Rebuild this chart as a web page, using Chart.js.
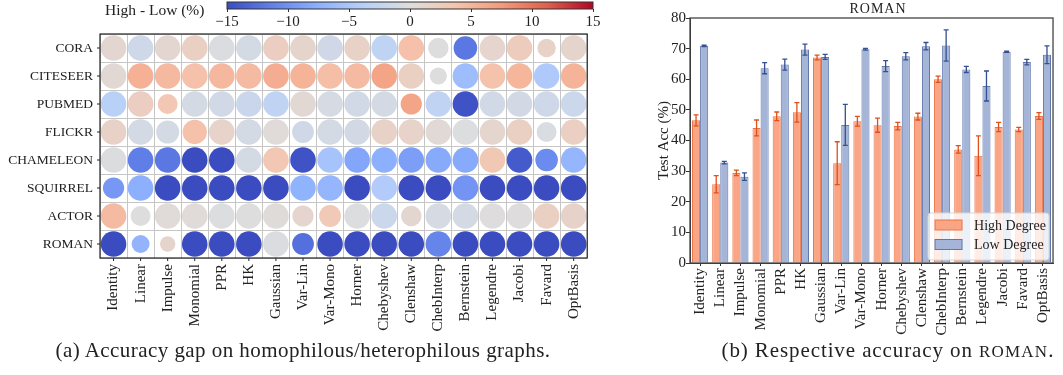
<!DOCTYPE html>
<html>
<head>
<meta charset="utf-8">
<script src="https://cdn.jsdelivr.net/npm/chart.js@4.4.0/dist/chart.umd.min.js"></script>
<style>
  body { margin: 0; background: #fff; width: 1063px; height: 375px; position: relative; overflow: hidden; font-family: "Liberation Serif", serif; color: #222; }
  canvas { position: absolute; }
  .txt { position: absolute; white-space: nowrap; color: #222; }
</style>
</head>
<body>
<canvas id="heat" style="left:0px;top:0px" width="600" height="340"></canvas>
<canvas id="cbar" style="left:200px;top:0px" width="420" height="30"></canvas>
<canvas id="bars" style="left:600px;top:0px" width="463" height="345"></canvas>
<div class="txt" style="left:105px;top:1px;font-size:15.5px">High - Low (%)</div>
<div class="txt" style="left:878px;top:1px;font-size:14px;letter-spacing:1px;transform:translateX(-50%)">ROMAN</div>
<div class="txt" style="left:303px;top:338px;font-size:21px;letter-spacing:0.45px;transform:translateX(-50%)">(a) Accuracy gap on homophilous/heterophilous graphs.</div>
<div class="txt" style="left:888px;top:338px;font-size:21px;letter-spacing:0.9px;transform:translateX(-50%)">(b) Respective accuracy on <span style="font-size:17px;letter-spacing:1.2px">ROMAN</span>.</div>
<script>
const methods = ['Identity', 'Linear', 'Impulse', 'Monomial', 'PPR', 'HK', 'Gaussian', 'Var-Lin', 'Var-Mono',
  'Horner', 'Chebyshev', 'Clenshaw', 'ChebInterp', 'Bernstein', 'Legendre', 'Jacobi', 'Favard', 'OptBasis'];
const graphs = ['CORA', 'CITESEER', 'PUBMED', 'FLICKR', 'CHAMELEON', 'SQUIRREL', 'ACTOR', 'ROMAN'];

// accuracy gap, high - low degree (%)
const gapCora      = [1.0, -1.5, 1.0, 2.0, -0.3, -1.0, 2.2, 1.3, -1.3, 1.7, -3.0, 4.0, 0.0, -12.0, 1.2, 2.5, 1.7, 1.3];
const gapCiteseer  = [0.8, 5.5, 4.7, 4.0, 4.8, 4.6, 5.8, 5.3, 4.2, 4.6, 6.5, 2.0, 0.0, -6.0, 3.8, 5.0, -4.5, 5.2];
const gapPubmed    = [-3.5, 2.2, 3.3, -1.0, -1.2, -2.0, -2.8, 0.7, -0.8, -1.2, -1.0, 6.5, -2.8, -14.5, -1.2, -1.1, -1.5, -1.8];
const gapFlickr    = [1.7, -1.0, -1.0, 4.0, 1.5, -1.0, 0.4, -1.3, -1.0, -1.1, 1.7, 1.5, 0.6, -0.1, 1.1, 2.0, -0.4, 2.1];
const gapChameleon = [-0.2, -11.5, -12.0, -15, -15, -1.0, 3.3, -14.5, -5.3, -8.3, -7.5, -9.0, -8.0, -8.0, 3.2, -14.0, -10.5, -6.8];
const gapSquirrel  = [-9.5, -7.5, -15, -15, -15, -15, -15, -7.2, -6.8, -15, -4.3, -15, -15, -9.8, -15, -15, -15, -15];
const gapActor     = [4.6, 0.0, 0.4, 0.4, -0.1, 0.0, 0.3, 1.2, 3.0, -0.1, -1.8, 1.0, -0.8, -1.0, 0.1, 0.1, 2.0, 1.6];
const gapRoman     = [-24.5, -7.0, 1.3, -19.5, -17.0, -20.5, -0.3, -12.5, -23.5, -19.3, -22.8, -23.0, -11.0, -26.0, -23.0, -24.6, -21.6, -20.0];

// relative marker size
const sizeCora      = [1, 1, 1, 1, 1, 1, 1, 1, 1, 1, 1, 1, 0.8, 0.92, 1, 1, 0.72, 1];
const sizeCiteseer  = [1, 1, 1, 1, 1, 1, 1, 1, 1, 1, 1, 1, 0.67, 1, 1, 1, 1, 1];
const sizePubmed    = [1, 1, 0.78, 1, 1, 1, 1, 1, 1, 1, 1, 0.83, 1, 1, 1, 1, 1, 1];
const sizeFlickr    = [1, 1, 0.9, 0.95, 1, 1, 1, 0.85, 1, 1, 1, 1, 1, 1, 1, 1, 0.78, 1];
const sizeChameleon = [1, 1, 1, 1, 1, 1, 1, 1, 1, 1, 1, 1, 1, 1, 1, 1, 0.88, 1];
const sizeSquirrel  = [0.83, 1, 1, 1, 1, 1, 1, 1, 1, 1, 1, 1, 1, 1, 1, 1, 1, 1];
const sizeActor     = [1, 0.78, 1, 1, 1, 1, 1, 0.83, 0.85, 1, 1, 0.8, 1, 1, 1, 1, 1, 1];
const sizeRoman     = [1, 0.7, 0.6, 1, 1, 1, 1, 0.85, 1, 1, 1, 1, 1, 1, 1, 1, 1, 1];

const gaps = [gapCora, gapCiteseer, gapPubmed, gapFlickr, gapChameleon, gapSquirrel, gapActor, gapRoman];
const sizes = [sizeCora, sizeCiteseer, sizePubmed, sizeFlickr, sizeChameleon, sizeSquirrel, sizeActor, sizeRoman];
const cbTicks = [-15, -10, -5, 0, 5, 10, 15];

// ROMAN test accuracy (%)
const highAcc = [46.6, 25.7, 29.4, 44.1, 47.9, 49.2, 67.1, 32.6, 46.3, 45.0, 44.7, 47.8, 60.0, 37.1, 35.0, 44.4, 43.6, 48.0];
const highErr = [1.8, 2.8, 0.9, 2.6, 1.4, 3.2, 0.75, 7.0, 1.6, 2.3, 1.2, 1.1, 1.0, 1.2, 6.5, 1.5, 0.7, 1.1];
const lowAcc  = [70.9, 32.8, 28.2, 63.6, 64.8, 69.7, 67.3, 45.1, 69.8, 64.3, 67.5, 70.8, 71.0, 63.2, 57.8, 69.0, 65.6, 68.0];
const lowErr  = [0.2, 0.4, 1.2, 1.8, 1.8, 1.8, 0.8, 6.7, 0.3, 1.8, 1.2, 1.2, 5.1, 1.0, 4.9, 0.2, 0.9, 2.9];

const serif = 'Liberation Serif';

// coolwarm colour map
const cw = [[59,76,192],[98,130,234],[141,176,254],[184,208,249],[221,221,221],[245,196,173],[244,154,123],[222,96,77],[180,4,38]];
function coolwarm(v) {
  let t = Math.max(0, Math.min(1, (v + 15) / 30));
  const p = t * 8, i = Math.min(7, Math.floor(p)), f = p - i;
  const a = cw[i], b = cw[i + 1];
  return 'rgb(' + a.map((c, k) => Math.round(c + (b[k] - c) * f)).join(',') + ')';
}

const framePlugin = {
  id: 'frame',
  afterDraw(chart, args, opts) {
    const a = chart.chartArea, ctx = chart.ctx;
    ctx.save();
    ctx.strokeStyle = opts.color || '#222';
    ctx.lineWidth = opts.width || 1.2;
    ctx.strokeRect(a.left, a.top, a.right - a.left, a.bottom - a.top);
    ctx.restore();
  }
};

const centerTicks = {
  id: 'centerTicks',
  afterDraw(chart) {
    const ctx = chart.ctx, a = chart.chartArea, sx = chart.scales.x, sy = chart.scales.y;
    ctx.save();
    ctx.strokeStyle = '#222';
    ctx.lineWidth = 1;
    ctx.beginPath();
    methods.forEach((m, i) => {
      const x = sx.getPixelForValue(i);
      ctx.moveTo(x, a.bottom); ctx.lineTo(x, a.bottom + 3);
    });
    graphs.forEach((g, j) => {
      const y = sy.getPixelForValue(j);
      ctx.moveTo(a.left - 3, y); ctx.lineTo(a.left, y);
    });
    ctx.stroke();
    ctx.restore();
  }
};

new Chart(document.getElementById('heat'), {
  type: 'bubble',
  data: {
    datasets: graphs.map((g, j) => ({
      label: g,
      data: methods.map((m, i) => ({ x: m, y: g, r: 12.8 * sizes[j][i] })),
      backgroundColor: gaps[j].map(coolwarm),
      borderWidth: 0
    }))
  },
  options: {
    responsive: false,
    animation: false,
    events: [],
    layout: { padding: { top: 34, right: 7, left: 0, bottom: 0 } },
    plugins: { legend: { display: false }, tooltip: { enabled: false }, frame: { color: '#222', width: 1.2 } },
    scales: {
      x: {
        type: 'category', labels: methods, offset: true,
        grid: { offset: true, color: '#c6c6c6', drawTicks: false },
        border: { display: false },
        ticks: { minRotation: 90, maxRotation: 90, autoSkip: false, padding: 6, color: '#222', font: { family: serif, size: 15 } },
        afterFit(s) { s.height = 82; }
      },
      y: {
        type: 'category', labels: graphs, offset: true,
        grid: { offset: true, color: '#c6c6c6', drawTicks: false },
        border: { display: false },
        ticks: { autoSkip: false, padding: 7, color: '#222', font: { family: serif, size: 13.5 } },
        afterFit(s) { s.width = 100; }
      }
    }
  },
  plugins: [framePlugin, centerTicks]
});

const gradientBar = {
  id: 'gradientBar',
  beforeDatasetsDraw(chart) {
    const a = chart.chartArea, ctx = chart.ctx;
    const g = ctx.createLinearGradient(a.left, 0, a.right, 0);
    cw.forEach((c, k) => g.addColorStop(k / (cw.length - 1), 'rgb(' + c.join(',') + ')'));
    ctx.save();
    ctx.fillStyle = g;
    ctx.fillRect(a.left, a.top, a.right - a.left, a.bottom - a.top);
    ctx.strokeStyle = '#333';
    ctx.lineWidth = 1;
    ctx.strokeRect(a.left, a.top, a.right - a.left, a.bottom - a.top);
    ctx.restore();
  }
};

new Chart(document.getElementById('cbar'), {
  type: 'scatter',
  data: { datasets: [] },
  options: {
    responsive: false,
    animation: false,
    events: [],
    layout: { padding: { left: 27, right: 27, top: 2, bottom: 0 } },
    plugins: { legend: { display: false }, tooltip: { enabled: false } },
    scales: {
      x: {
        type: 'linear', min: -15, max: 15,
        afterBuildTicks(s) { s.ticks = cbTicks.map(v => ({ value: v })); },
        ticks: { padding: 1, color: '#222', font: { family: serif, size: 15 }, callback: v => String(v).replace('-', '\u2212') },
        grid: { drawOnChartArea: false, tickLength: 3, color: '#333' },
        border: { display: false },
        afterFit(s) { s.height = 21; }
      },
      y: { display: false }
    }
  },
  plugins: [gradientBar]
});

const errorBars = {
  id: 'errorBars',
  afterDatasetsDraw(chart) {
    const ctx = chart.ctx, sy = chart.scales.y;
    chart.data.datasets.forEach((ds, d) => {
      chart.getDatasetMeta(d).data.forEach((bar, i) => {
        const v = ds.data[i], e = ds.errors[i];
        const top = sy.getPixelForValue(v + e), bot = sy.getPixelForValue(v - e);
        ctx.save();
        ctx.strokeStyle = ds.errColor;
        ctx.lineWidth = 1.3;
        ctx.beginPath();
        ctx.moveTo(bar.x, top); ctx.lineTo(bar.x, bot);
        ctx.moveTo(bar.x - 2.5, top); ctx.lineTo(bar.x + 2.5, top);
        ctx.moveTo(bar.x - 2.5, bot); ctx.lineTo(bar.x + 2.5, bot);
        ctx.stroke();
        ctx.restore();
      });
    });
  }
};

const boxLegend = {
  id: 'boxLegend',
  afterDraw(chart) {
    const a = chart.chartArea, ctx = chart.ctx;
    const w = 121, h = 47, x0 = a.right - w - 4, y0 = a.bottom - h - 3;
    ctx.save();
    ctx.fillStyle = 'rgba(255,255,255,0.8)';
    ctx.strokeStyle = '#d6d6d6';
    ctx.lineWidth = 1;
    ctx.beginPath();
    ctx.roundRect(x0, y0, w, h, 3);
    ctx.fill(); ctx.stroke();
    ctx.font = '14px "' + serif + '"';
    ctx.textBaseline = 'middle';
    chart.data.datasets.forEach((ds, d) => {
      const cy = y0 + 12 + d * 19.5;
      ctx.fillStyle = ds.backgroundColor;
      ctx.strokeStyle = ds.borderColor;
      ctx.fillRect(x0 + 7, cy - 5, 27, 10);
      ctx.strokeRect(x0 + 7, cy - 5, 27, 10);
      ctx.fillStyle = '#222';
      ctx.fillText(ds.label, x0 + 46, cy + 1);
    });
    ctx.restore();
  }
};

new Chart(document.getElementById('bars'), {
  type: 'bar',
  data: {
    labels: methods,
    datasets: [
      { label: 'High Degree', data: highAcc, errors: highErr, errColor: '#e0501a',
        backgroundColor: 'rgba(250,158,124,0.92)', borderColor: '#ec7446', borderWidth: 1 },
      { label: 'Low Degree', data: lowAcc, errors: lowErr, errColor: '#34508f',
        backgroundColor: 'rgba(160,177,214,0.95)', borderColor: '#6076ac', borderWidth: 1 }
    ]
  },
  options: {
    responsive: false,
    animation: false,
    events: [],
    layout: { padding: { top: 18, right: 2, left: 0, bottom: 0 } },
    datasets: { bar: { categoryPercentage: 0.8, barPercentage: 1.0 } },
    plugins: { legend: { display: false }, tooltip: { enabled: false }, frame: { color: '#444', width: 1.3 } },
    scales: {
      x: {
        grid: { offset: false, drawOnChartArea: false, tickLength: 3, color: '#333' },
        border: { color: '#333' },
        ticks: { minRotation: 90, maxRotation: 90, autoSkip: false, padding: 2, color: '#222', font: { family: serif, size: 15 } },
        afterFit(s) { s.height = 82; }
      },
      y: {
        min: 0, max: 80,
        ticks: { stepSize: 10, padding: 0, color: '#222', font: { family: serif, size: 15 } },
        grid: { drawOnChartArea: false, tickLength: 4, color: '#333' },
        border: { color: '#333' },
        title: { display: true, text: 'Test Acc (%)', color: '#222', font: { family: serif, size: 15 }, padding: { top: 55, bottom: 0 } },
        afterFit(s) { s.width = 90; }
      }
    }
  },
  plugins: [errorBars, framePlugin, boxLegend]
});
</script>
</body>
</html>
